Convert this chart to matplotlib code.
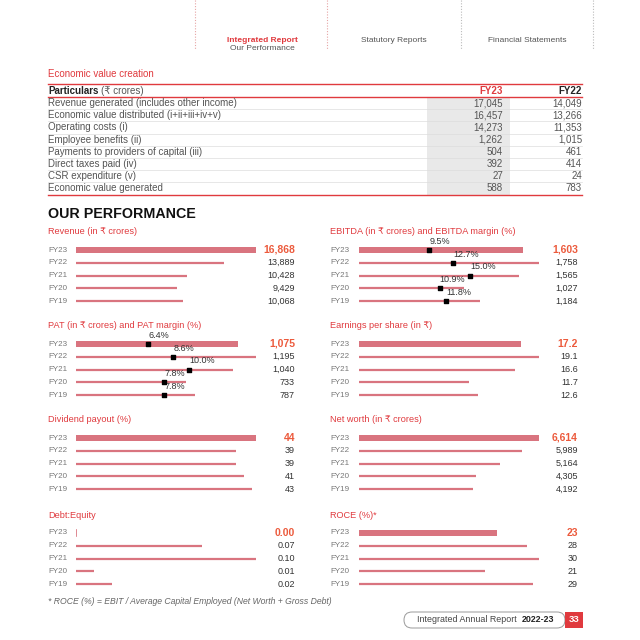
import matplotlib
matplotlib.use("Agg")
import matplotlib.pyplot as plt
from matplotlib.patches import Rectangle, FancyBboxPatch

plt.rcParams['font.family'] = ['Liberation Sans', 'DejaVu Sans']

RED = '#e03a3e'
BAR = '#d9747f'
HL = '#ec5a3c'
GREY = '#555555'

# --- table data ---
particulars = ['Revenue generated (includes other income)',
               'Economic value distributed (i+ii+iii+iv+v)',
               'Operating costs (i)',
               'Employee benefits (ii)',
               'Payments to providers of capital (iii)',
               'Direct taxes paid (iv)',
               'CSR expenditure (v)',
               'Economic value generated']
fy23_vals = ['17,045', '16,457', '14,273', '1,262', '504', '392', '27', '588']
fy22_vals = ['14,049', '13,266', '11,353', '1,015', '461', '414', '24', '783']

# --- performance data ---
years = ['FY23', 'FY22', 'FY21', 'FY20', 'FY19']
revenue = [16868, 13889, 10428, 9429, 10068]
ebitda = [1603, 1758, 1565, 1027, 1184]
ebitda_margin = [9.5, 12.7, 15.0, 10.9, 11.8]
pat = [1075, 1195, 1040, 733, 787]
pat_margin = [6.4, 8.6, 10.0, 7.8, 7.8]
eps = [17.2, 19.1, 16.6, 11.7, 12.6]
dividend = [44, 39, 39, 41, 43]
net_worth = [6614, 5989, 5164, 4305, 4192]
debt_equity = [0.00, 0.07, 0.10, 0.01, 0.02]
roce = [23, 28, 30, 21, 29]

W = H = 640
LM = 48   # left margin of the page
fig = plt.figure(figsize=(6.4, 6.4), dpi=100)
fig.patch.set_facecolor('white')
bg = fig.add_axes([0, 0, 1, 1])
bg.set_xlim(0, W)
bg.set_ylim(H, 0)
bg.axis('off')

# header
for x, c in [(195, '#e6a5a5'), (327, '#e6a5a5'), (461, '#bbbbbb'), (593, '#bbbbbb')]:
    bg.plot([x, x], [0, 50], color=c, lw=0.8, ls=(0, (1, 1.5)))
bg.text(262, 40, 'Integrated Report', color=RED, fontsize=6, fontweight='bold', ha='center', va='center')
bg.text(262, 48, 'Our Performance', color=GREY, fontsize=6, ha='center', va='center')
bg.text(394, 40, 'Statutory Reports', color=GREY, fontsize=6, ha='center', va='center')
bg.text(527, 40, 'Financial Statements', color=GREY, fontsize=6, ha='center', va='center')

# table
TF = 7
bg.text(LM, 74, 'Economic value creation', color=RED, fontsize=TF, va='center')
bg.plot([LM, 582], [84, 84], color=RED, lw=1.0)
bg.text(LM, 91, 'Particulars', color='#222222', fontsize=TF, fontweight='bold', va='center')
bg.text(101, 91, '(₹ crores)', color=GREY, fontsize=TF, va='center')
bg.text(503, 91, 'FY23', color=RED, fontsize=TF, fontweight='bold', ha='right', va='center')
bg.text(582, 91, 'FY22', color='#222222', fontsize=TF, fontweight='bold', ha='right', va='center')
bg.add_patch(Rectangle((427, 97), 83, 98, color='#e9e9e9', lw=0, zorder=0))
bg.plot([LM, 582], [97, 97], color=RED, lw=1.0)
row_h = 12.2
for i, (p, a, b) in enumerate(zip(particulars, fy23_vals, fy22_vals)):
    y = 103 + i * row_h
    bg.text(LM, y, p, color=GREY, fontsize=TF, va='center')
    bg.text(503, y, a, color=GREY, fontsize=TF, ha='right', va='center')
    bg.text(582, y, b, color=GREY, fontsize=TF, ha='right', va='center')
    if i < len(particulars) - 1:
        bg.plot([LM, 582], [y + row_h / 2, y + row_h / 2], color='#dddddd', lw=0.5)
bg.plot([LM, 582], [195, 195], color=RED, lw=1.0)

bg.text(LM, 214, 'OUR PERFORMANCE', color='#111111', fontsize=10.3, fontweight='bold', va='center')

STEP = 12.8
BARW = 180


def panel(col, ytitle, yfirst, title, vals, fmt, margins=None, mscale=None):
    if col == 0:
        lab_x, x0, val_x = LM, 76, 295
    else:
        lab_x, x0, val_x = 330, 359, 578
    bg.text(lab_x, ytitle, title, color=RED, fontsize=6.6, va='center')
    top = yfirst - STEP / 2
    bot = yfirst + 4 * STEP + STEP / 2
    ax = fig.add_axes([x0 / W, 1 - bot / H, BARW / W, (bot - top) / H])
    ax.set_xlim(0, max(vals))
    ax.set_ylim(4.5, -0.5)
    ax.axis('off')
    ax.barh([0], vals[:1], height=0.42, color=BAR, lw=0)
    # thin bars drawn as lines so every row has the same stroke
    for i, v in enumerate(vals[1:], start=1):
        ax.hlines(i, 0, v, color=BAR, lw=1.6)
    for i, v in enumerate(vals):
        if v == 0:
            ax.plot([0, 0], [i - 0.25, i + 0.25], color=BAR, lw=1.2)
    for i, (yr, v) in enumerate(zip(years, vals)):
        y = yfirst + i * STEP
        bg.text(lab_x, y, yr, color='#777777', fontsize=5.8, va='center')
        if i == 0:
            bg.text(val_x, y, fmt.format(v), color=HL, fontsize=7.5, fontweight='bold',
                    ha='right', va='center')
        else:
            bg.text(val_x, y, fmt.format(v), color='#333333', fontsize=6.5, ha='right', va='center')
    if margins is not None:
        ax2 = ax.twiny()
        ax2.set_xlim(0, mscale)
        ax2.set_ylim(4.5, -0.5)
        ax2.axis('off')
        ax2.scatter(margins, range(len(margins)), marker='s', s=11, color='black', zorder=5)
        for i, m in enumerate(margins):
            ax2.annotate('{:.1f}%'.format(m), (m, i), xytext=(0, 3), textcoords='offset points',
                         fontsize=6.5, color='#333333', ha='left', va='bottom')


panel(0, 232, 250, 'Revenue (in ₹ crores)', revenue, '{:,}')
panel(1, 232, 250, 'EBITDA (in ₹ crores) and EBITDA margin (%)', ebitda, '{:,}',
      ebitda_margin, 180 / 7.4)
panel(0, 326, 344, 'PAT (in ₹ crores) and PAT margin (%)', pat, '{:,}',
      pat_margin, 180 / 11.3)
panel(1, 326, 344, 'Earnings per share (in ₹)', eps, '{:.1f}')
panel(0, 419, 438, 'Dividend payout (%)', dividend, '{}')
panel(1, 419, 438, 'Net worth (in ₹ crores)', net_worth, '{:,}')
panel(0, 515, 533, 'Debt:Equity', debt_equity, '{:.2f}')
panel(1, 515, 533, 'ROCE (%)*', roce, '{}')

bg.text(LM, 602, '* ROCE (%) = EBIT / Average Capital Employed (Net Worth + Gross Debt)',
        color='#666666', fontsize=6.2, style='italic', va='center')

# footer
bg.add_patch(FancyBboxPatch((404, 612), 161, 16, boxstyle='round,pad=0,rounding_size=8',
                            fc='white', ec='#999999', lw=0.7))
bg.add_patch(Rectangle((565, 612), 18, 16, color=RED, lw=0))
bg.text(417, 620, 'Integrated Annual Report', color='#444444', fontsize=6.4, va='center')
bg.text(522, 620, '2022-23', color='#222222', fontsize=6.4, fontweight='bold', va='center')
bg.text(574, 620, '33', color='white', fontsize=6.8, fontweight='bold', ha='center', va='center')

fig.savefig('out.png', dpi=100, facecolor='white')
